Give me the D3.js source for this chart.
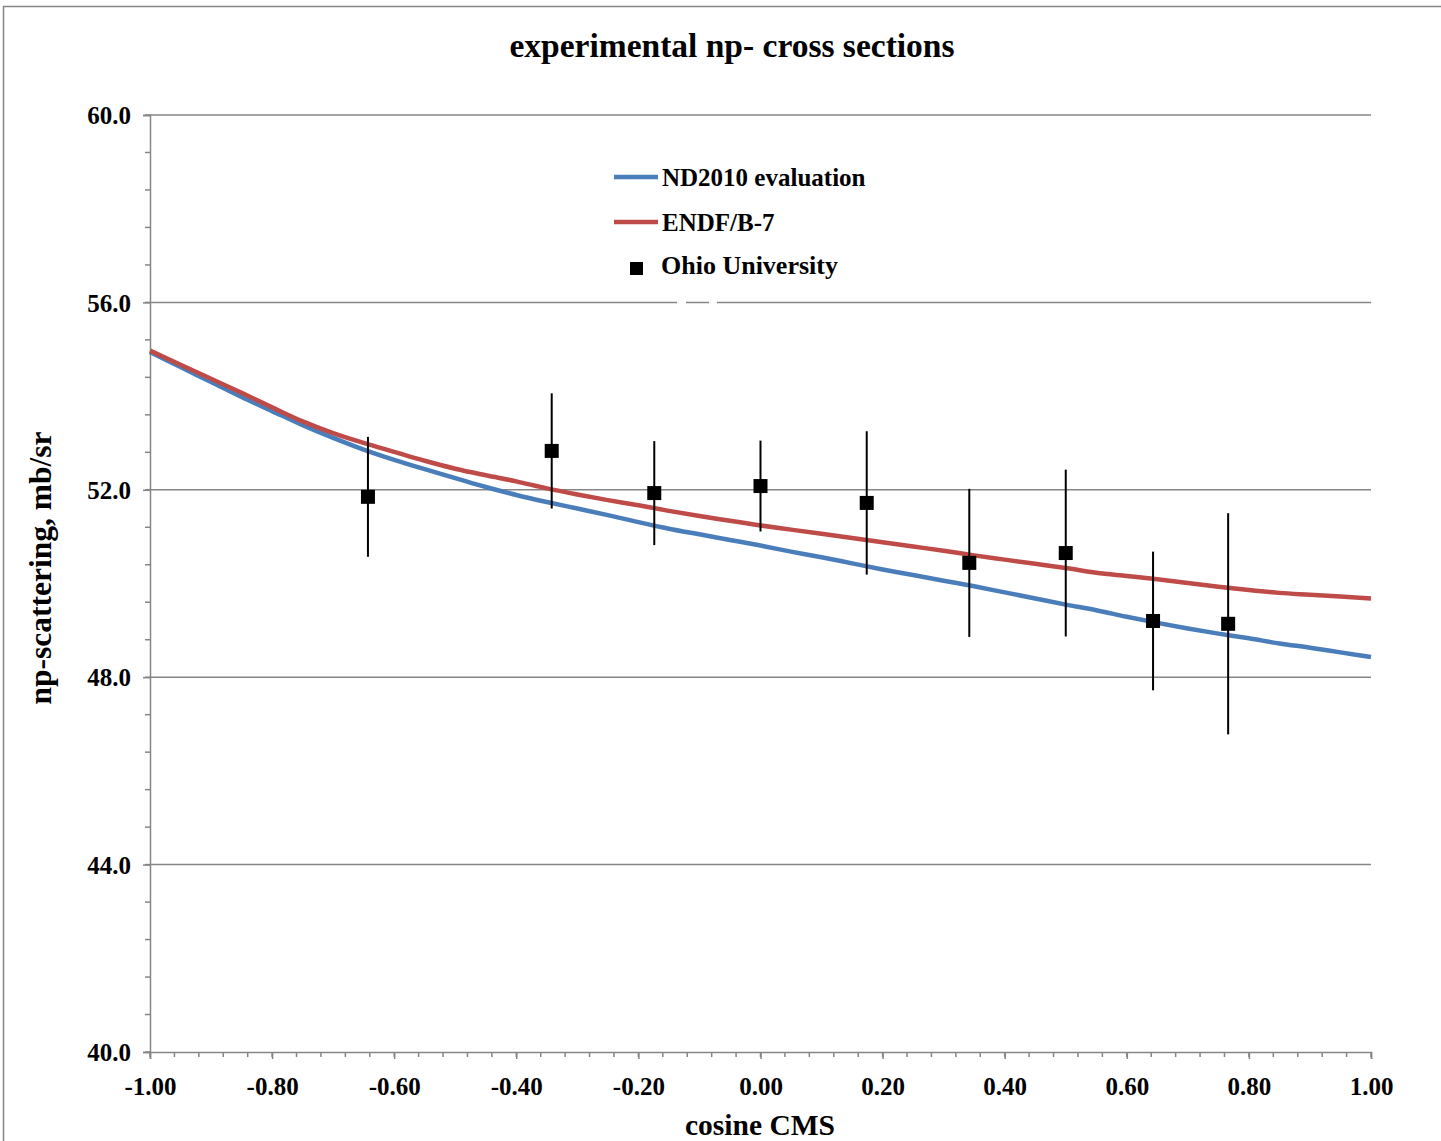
<!DOCTYPE html>
<html><head><meta charset="utf-8">
<script src="https://cdn.jsdelivr.net/npm/d3@7"></script>
<style>body{margin:0;background:#fff}svg{display:block}text{font-family:"Liberation Serif","Times New Roman",serif;font-weight:bold;fill:#000}</style>
</head><body><svg id="c" width="1441" height="1141"></svg>
<script>
const cosGrid = [-1.00,-0.95,-0.90,-0.85,-0.80,-0.75,-0.70,-0.65,-0.60,-0.55,-0.50,-0.45,-0.40,-0.35,-0.30,-0.25,-0.20,-0.15,-0.10,-0.05,0.00,0.05,0.10,0.15,0.20,0.25,0.30,0.35,0.40,0.45,0.50,0.55,0.60,0.65,0.70,0.75,0.80,0.85,0.90,0.95,1.00];
const nd2010 = [54.94,54.62,54.30,53.98,53.68,53.38,53.11,52.86,52.64,52.44,52.25,52.06,51.89,51.74,51.60,51.46,51.31,51.17,51.05,50.93,50.81,50.68,50.56,50.43,50.30,50.18,50.06,49.94,49.81,49.68,49.55,49.43,49.29,49.16,49.04,48.93,48.83,48.72,48.63,48.53,48.43];
const endfb7 = [54.97,54.67,54.37,54.07,53.76,53.46,53.21,53.00,52.81,52.62,52.45,52.31,52.18,52.03,51.90,51.78,51.67,51.55,51.44,51.34,51.24,51.15,51.06,50.97,50.88,50.79,50.70,50.60,50.51,50.42,50.33,50.23,50.16,50.09,50.01,49.93,49.86,49.80,49.76,49.72,49.68];
const ohioCos = [-0.643,-0.342,-0.174,0.000,0.174,0.342,0.500,0.643,0.766];
const ohioVal = [51.85,52.83,51.93,52.08,51.72,50.44,50.65,49.20,49.14];
const ohioErr = [1.28,1.23,1.11,0.97,1.53,1.58,1.78,1.48,2.36];
const xTicks = [-1.00,-0.80,-0.60,-0.40,-0.20,0.00,0.20,0.40,0.60,0.80,1.00];
const yTicks = [40.0,44.0,48.0,52.0,56.0,60.0];
const seriesNames = ["ND2010 evaluation","ENDF/B-7","Ohio University"];
const colors = ["#4a7ebb","#be4b48","#000"];

const svg = d3.select("#c");
const L=150,R=1371,T=115,B=1052;
const x = d3.scaleLinear().domain([-1,1]).range([L,R]);
const y = d3.scaleLinear().domain([40,60]).range([B,T]);
const grey="#868686";

svg.append("rect").attr("x",3.5).attr("y",6.5).attr("width",1460).attr("height",1160)
  .attr("fill","#fff").attr("stroke",grey).attr("stroke-width",1.5);

svg.append("text").attr("x",732).attr("y",57).attr("text-anchor","middle")
  .style("font-size","33.5px").text("experimental np- cross sections");

// gridlines
svg.append("g").selectAll("line").data(yTicks.filter(d=>d>40)).join("line")
  .attr("x1",L).attr("x2",R).attr("y1",d=>y(d)).attr("y2",d=>y(d))
  .attr("stroke",grey).attr("stroke-width",1.5);

// minor ticks
const yMinor = d3.range(40,60.001,0.8);
svg.append("g").selectAll("line").data(yMinor).join("line")
  .attr("x1",L-5).attr("x2",L).attr("y1",d=>y(d)).attr("y2",d=>y(d))
  .attr("stroke",grey).attr("stroke-width",1.5);
const xMinor = d3.range(-1,1.001,0.04);
svg.append("g").selectAll("line").data(xMinor).join("line")
  .attr("x1",d=>x(d)).attr("x2",d=>x(d)).attr("y1",B).attr("y2",B+5)
  .attr("stroke",grey).attr("stroke-width",1.5);

// axes
const gx = svg.append("g").attr("transform",`translate(0,${B})`)
  .call(d3.axisBottom(x).tickValues(xTicks).tickFormat(d3.format(".2f")).tickSize(7).tickPadding(18));
const gy = svg.append("g").attr("transform",`translate(${L},0)`)
  .call(d3.axisLeft(y).tickValues(yTicks).tickFormat(d3.format(".1f")).tickSize(7).tickPadding(12));
[gx,gy].forEach(g=>{
  g.select(".domain").attr("stroke",grey).attr("stroke-width",1.5);
  g.selectAll(".tick line").attr("stroke",grey).attr("stroke-width",1.5);
  g.selectAll("text").attr("font-family",null).style("font-size","25px").attr("fill","#000");
});
gx.selectAll("text").text(d=>d3.format(".2f")(d).replace("−","-"));
gy.selectAll("text").attr("dy","0.35em");

// gaps in 56 gridline
[[677,686],[709,717]].forEach(([a,b])=>svg.append("rect").attr("x",a).attr("y",y(56)-2).attr("width",b-a).attr("height",4).attr("fill","#fff"));

// axis titles
svg.append("text").attr("x",760).attr("y",1135).attr("text-anchor","middle")
  .style("font-size","29.5px").text("cosine CMS");
svg.append("text").attr("transform","translate(51,568) rotate(-90)").attr("text-anchor","middle")
  .style("font-size","31.5px").text("np-scattering, mb/sr");

// lines
const line = d3.line().x((d,i)=>x(cosGrid[i])).y(d=>y(d)).curve(d3.curveMonotoneX);
svg.append("path").attr("d",line(nd2010)).attr("fill","none").attr("stroke",colors[0]).attr("stroke-width",4.5);
svg.append("path").attr("d",line(endfb7)).attr("fill","none").attr("stroke",colors[1]).attr("stroke-width",4.5);

// error bars and points
const pts = ohioCos.map((c,i)=>({c,v:ohioVal[i],e:ohioErr[i]}));
svg.append("g").selectAll("line").data(pts).join("line")
  .attr("x1",d=>x(d.c)).attr("x2",d=>x(d.c)).attr("y1",d=>y(d.v+d.e)).attr("y2",d=>y(d.v-d.e))
  .attr("stroke","#000").attr("stroke-width",2);
svg.append("g").selectAll("rect").data(pts).join("rect")
  .attr("x",d=>x(d.c)-7).attr("y",d=>y(d.v)-7).attr("width",14).attr("height",14).attr("fill","#000");

// legend
const lg = svg.append("g");
[0,1].forEach(i=>{
  const ly=[177,222][i];
  lg.append("line").attr("x1",614).attr("x2",658).attr("y1",ly).attr("y2",ly)
    .attr("stroke",colors[i]).attr("stroke-width",4.5);
  lg.append("text").attr("x",662).attr("y",ly+9).style("font-size","25px").text(seriesNames[i]);
});
lg.append("rect").attr("x",630).attr("y",262).attr("width",13).attr("height",13).attr("fill","#000");
lg.append("text").attr("x",661).attr("y",274).style("font-size","26px").text(seriesNames[2]);
</script></body></html>
